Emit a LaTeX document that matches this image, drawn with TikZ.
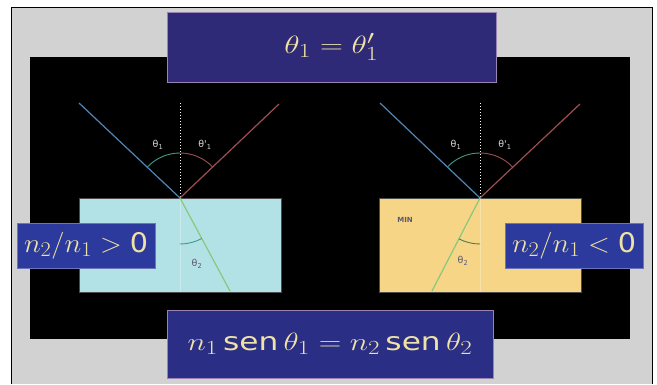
\RequirePackage{fix-cm}
\documentclass[tikz,border=0pt]{standalone}
\usepackage{amsmath}
\usepackage{fontspec}
\usetikzlibrary{angles, positioning}
\newfontfamily\lblfont{DejaVu Sans}
\DeclareMathSizes{25}{25}{20}{15}
\DeclareMathSizes{27}{27}{21}{16}
\definecolor{framegrey}{HTML}{D2D2D2}
\definecolor{titleblue}{HTML}{2E2A78}
\definecolor{tagblue}{HTML}{2B3A9C}
\definecolor{lawblue}{HTML}{2A2E84}
\definecolor{rimpink}{HTML}{9C82B4}
\definecolor{creamtext}{HTML}{EFE2A6}
\definecolor{glasscyan}{HTML}{B3E2E6}
\definecolor{minyellow}{HTML}{F6D586}
\definecolor{rayblue}{HTML}{4F86B8}
\definecolor{rayred}{HTML}{9E4E52}
\definecolor{raygreen}{HTML}{86C97C}
\definecolor{arcteal}{HTML}{3F9A86}
\definecolor{labelgrey}{HTML}{D8D8D8}
\definecolor{darklabel}{HTML}{5A5A6E}
\tikzset{
	formulabox/.style={draw=rimpink, line width=0.8pt, text=creamtext, inner sep=0pt,
		font=\fontsize{25}{30}\selectfont},
	tagbox/.style={fill=tagblue, draw=tagblue!70!white, line width=0.6pt, text=creamtext,
		inner sep=0pt, minimum width=138pt, minimum height=45pt, font=\fontsize{27}{30}\selectfont},
	medium/.style={draw=black!70, line width=0.8pt, minimum width=202pt, minimum height=94pt,
		anchor=north west, inner sep=0pt},
	ray/.style={line width=1.2pt},
	normalline/.style={white, dotted, line width=1pt},
	innernormal/.style={white, opacity=0.3, line width=1pt},
	anglelbl/.style={text=labelgrey, inner sep=0pt, font=\lblfont\fontsize{9.5}{10}\selectfont},
	refrlbl/.style={text=darklabel, inner sep=0pt, font=\lblfont\fontsize{9.5}{10}\selectfont},
}

\begin{document}
\begin{tikzpicture}[x=1pt, y=-1pt]
	\useasboundingbox (0,0) rectangle (657,384);
	\fill[white] (0,0) rectangle (657,384);
	\fill[framegrey] (11,7) rectangle (652,384);
	\draw[line width=0.8pt] (11,384) -- (11,7) -- (652,7) -- (652,384);

	\node[fill=black, minimum width=600pt, minimum height=282pt, anchor=north west, inner sep=0pt] (panel) at (30,57) {};

	\node[medium, fill=glasscyan] (glass) at (79,198) {};
	\node[medium, fill=minyellow] (minmat) at (379,198) {};
	\node[refrlbl, font=\lblfont\bfseries\fontsize{7}{8}\selectfont] (mintag) at (405,220) {MIN};

	\coordinate (hitL) at (180,198);
	\coordinate (incL) at (79,103);
	\coordinate (refL) at (279,104);
	\coordinate (topL) at (180,103);
	\coordinate (botL) at (180,292);
	\coordinate (trL) at (230,291);

	\coordinate (hitR) at (480,198);
	\coordinate (incR) at (380,103);
	\coordinate (refR) at (580,104);
	\coordinate (topR) at (480,103);
	\coordinate (botR) at (480,292);
	\coordinate (trR) at (432,291);

	\draw[innernormal] (hitL) -- (botL);
	\draw[innernormal] (hitR) -- (botR);
	\draw[normalline] (topL) -- (hitL);
	\draw[normalline] (topR) -- (hitR);

	\draw[ray, rayblue] (incL) -- (hitL);
	\draw[ray, rayred] (hitL) -- (refL);
	\draw[ray, raygreen] (hitL) -- (trL);
	\draw[ray, rayblue] (incR) -- (hitR);
	\draw[ray, rayred] (hitR) -- (refR);
	\draw[ray, raygreen] (hitR) -- (trR);

	\pic[draw=arcteal, line width=0.9pt, angle radius=45pt] {angle=topL--hitL--incL};
	\pic[draw=rayred, line width=0.9pt, angle radius=45pt] {angle=refL--hitL--topL};
	\pic[draw=arcteal, line width=0.9pt, angle radius=46pt] {angle=botL--hitL--trL};
	\pic[draw=arcteal, line width=0.9pt, angle radius=45pt] {angle=topR--hitR--incR};
	\pic[draw=rayred, line width=0.9pt, angle radius=45pt] {angle=refR--hitR--topR};
	\pic[draw=raygreen!60!black, line width=0.9pt, angle radius=46pt] {angle=trR--hitR--botR};

	\node[anglelbl] (thL) at (158,145) {θ\textsubscript{1}};
	\node[anglelbl] (thpL) at (205,145) {θ'\textsubscript{1}};
	\node[refrlbl] (trlblL) at (197,264) {θ\textsubscript{2}};
	\node[anglelbl] (thR) at (456,145) {θ\textsubscript{1}};
	\node[anglelbl] (thpR) at (505,145) {θ'\textsubscript{1}};
	\node[refrlbl] (trlblR) at (463,261) {θ\textsubscript{2}};

	\node[tagbox] (tagL) at (86,245.5) {\scalebox{1.06}[1]{$n_2/n_1 > \text{\lblfont 0}$}};
	\node[tagbox] (tagR) at (574,246) {\scalebox{1.06}[1]{$n_2/n_1 < \text{\lblfont 0}$}};

	\node[formulabox, fill=titleblue, minimum width=329pt, minimum height=70pt] (snellA) at (331.5,47) {\scalebox{1.27}[1]{$\theta_1 = \theta'_1$}};
	\node[formulabox, fill=lawblue, minimum width=326pt, minimum height=68pt] (snellB) at (330,344) {\scalebox{1.25}[1]{$n_1\,\text{\lblfont sen}\,\theta_1 = n_2\,\text{\lblfont sen}\,\theta_2$}};
\end{tikzpicture}
\end{document}
